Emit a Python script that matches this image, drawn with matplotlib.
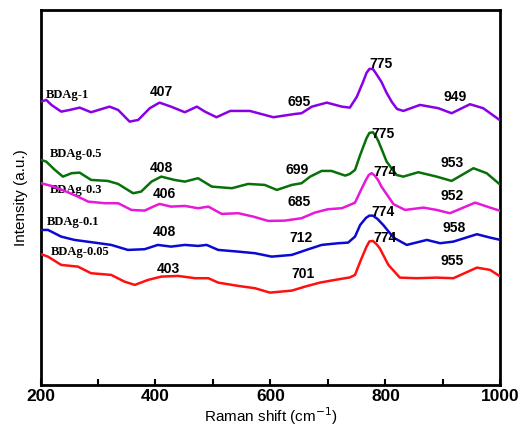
import matplotlib
matplotlib.use("Agg")
import matplotlib.pyplot as plt
from matplotlib.ticker import MultipleLocator

# ---- data (Raman shift, intensity a.u.) ----
x_1 = [201,210,219,236,251,268,288,320,335,355,370,390,407,427,451,472,486,506,530,564,605,643,654,672,698,724,738,750,761,767,772,778,784,793,802,811,820,831,860,892,915,947,970,1000]
y_1 = [283.3,285,280,273.3,275,277.3,272.7,278.3,275,263.3,265,276.7,282.3,278.3,272.7,278.3,273.3,267.7,274,274,267.7,271,271.7,278.3,282.3,278.3,277.3,288,303,312,316,316,311,303,292,283,276,274,280,276.7,271.7,280.7,276.7,264.3]

x_05 = [201,210,225,239,254,268,288,317,335,361,375,393,410,433,451,474,498,533,561,590,611,637,654,669,689,706,730,738,747,756,767,772,778,783,788,802,819,831,857,889,915,953,976,1000]
y_05 = [225,223.3,215,208.3,211.7,212.3,205,204,201,191.7,193.3,203.3,208.3,205,203.3,206.7,198.3,196.7,201,200,195,200,201.7,208.3,214,214,209.3,211,215,230,246.7,252,252.7,249,243.3,223.3,210,208.3,212.7,208.3,204,216.7,211.7,200]

x_03 = [201,219,242,265,283,312,335,358,381,396,407,427,451,474,492,515,544,570,596,625,654,677,700,724,738,747,756,766,771,776,781,787,793,814,834,866,889,912,956,982,1000]
y_03 = [201.7,199,194,188.3,183.3,181.7,181.7,175,174.3,178.3,181,178.3,179,176.7,178.3,171,171.7,168.3,164,164.3,166.7,172.3,175.7,176.7,180,182.3,193.3,205,210,211.7,209.5,205,198.3,180.7,175,177.3,175,171.7,182.3,177.3,174]

x_01 = [201,213,236,259,294,323,352,381,404,427,451,474,489,509,544,573,602,637,666,689,718,735,747,756,766,772,778,786,796,814,837,872,895,918,959,982,1000]
y_01 = [155,155,148.3,145,142.3,140,135,135.7,140,138.3,140,139,140,135,133.3,131.7,128.3,130,135.7,140,141.7,142.3,148.3,160,167,169.3,169.3,166,160,147.3,140,145,141.7,143.3,150.7,147.3,145]

x_005 = [201,213,236,265,288,323,346,364,387,410,439,469,492,509,544,573,599,637,660,686,712,738,747,756,767,772,778,784,790,805,825,854,889,918,959,982,1000]
y_005 = [130.7,128.3,120,118.3,111.7,110,103.3,100,105,108.3,109,106.7,106.7,102.3,99,96.7,92.3,94.3,98.3,102.3,105,107.5,110,123.3,138.3,143.5,144,141,136.7,120,107.3,106.7,107.3,106.7,117.3,115,108.3]

series_names = ["BDAg-1", "BDAg-0.5", "BDAg-0.3", "BDAg-0.1", "BDAg-0.05"]
series_colors = ["#8a00e6", "#087008", "#e619d9", "#0a0ad0", "#ff1010"]
series_x = [x_1, x_05, x_03, x_01, x_005]
series_y = [y_1, y_05, y_03, y_01, y_005]

# series name labels: (x, y baseline)
name_pos = [(210, 287), (216, 228), (216, 192), (211, 160), (218, 130)]

# peak labels: text, x centre, y baseline
peaks_1 = [("407", 411, 289), ("695", 649, 279.3), ("775", 792, 317.3), ("949", 921, 284.3)]
peaks_05 = [("408", 411, 213.3), ("699", 646, 211), ("775", 795, 247), ("953", 916, 218.3)]
peaks_03 = [("406", 415, 187), ("685", 650, 179), ("774", 799, 209.3), ("952", 916, 185)]
peaks_01 = [("408", 416, 149), ("712", 653, 143.3), ("774", 795, 169.3), ("958", 919, 153.3)]
peaks_005 = [("403", 422, 112.3), ("701", 656, 106.7), ("774", 799, 143.3), ("955", 916, 120)]
all_peaks = [peaks_1, peaks_05, peaks_03, peaks_01, peaks_005]

xticks = [200, 400, 600, 800, 1000]

fig = plt.figure(figsize=(5.26, 4.32), dpi=100)
ax = fig.add_axes([0.077, 0.109, 0.8745, 0.868])

for xs, ys, c in zip(series_x, series_y, series_colors):
    ax.plot(xs, ys, color=c, lw=1.8, solid_joinstyle="round", solid_capstyle="round", zorder=3)

for name, (px, py) in zip(series_names, name_pos):
    ax.text(px, py, name, ha="left", va="baseline", fontsize=9, fontweight="bold",
            family="Liberation Serif", zorder=2)

for plist in all_peaks:
    for t, px, py in plist:
        ax.text(px, py, t, ha="center", va="baseline", fontsize=10, fontweight="bold",
                family="Liberation Sans", zorder=4)

ax.set_xlim(200, 1000)
ax.set_ylim(0, 375)
ax.set_xticks(xticks)
ax.set_xticklabels([str(v) for v in xticks], fontsize=12.5, fontweight="bold", family="Liberation Sans")
ax.xaxis.set_minor_locator(MultipleLocator(100))
ax.tick_params(axis="x", which="both", direction="in", length=4, width=1.5, pad=3, top=False)
ax.set_yticks([])
for sp in ax.spines.values():
    sp.set_linewidth(2)

ax.set_xlabel("Raman shift (cm$^{-1}$)", fontsize=11, family="Liberation Sans", labelpad=1)
ax.set_ylabel("Intensity (a.u.)", fontsize=11, family="Liberation Sans", labelpad=9)

fig.savefig("out.png", dpi=100)
